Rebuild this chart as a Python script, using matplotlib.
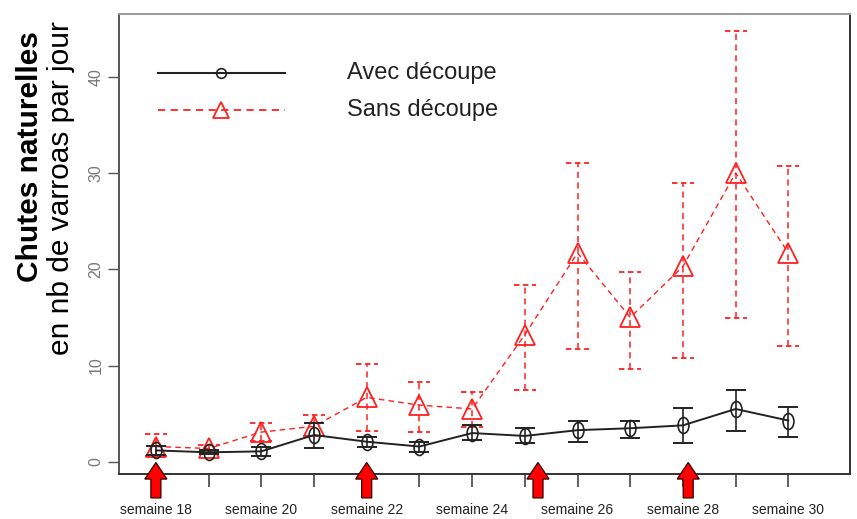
import matplotlib
matplotlib.use("Agg")
import matplotlib.pyplot as plt
from matplotlib.patches import FancyArrow
from matplotlib.lines import Line2D
from matplotlib.path import Path
from matplotlib.transforms import blended_transform_factory, Affine2D
import numpy as np

# ---- data ----
weeks = [18, 19, 20, 21, 22, 23, 24, 25, 26, 27, 28, 29, 30]
tick_label_weeks = [18, 20, 22, 24, 26, 28, 30]
tick_labels = ["semaine 18", "semaine 20", "semaine 22", "semaine 24",
               "semaine 26", "semaine 28", "semaine 30"]

avec_mean = [1.2, 1.0, 1.1, 2.8, 2.1, 1.6, 3.0, 2.7, 3.3, 3.5, 3.8, 5.5, 4.3]
avec_lo   = [0.7, 0.8, 0.6, 1.5, 1.6, 1.0, 2.3, 2.0, 2.1, 2.5, 2.0, 3.2, 2.6]
avec_hi   = [1.7, 1.2, 1.6, 4.0, 2.6, 2.1, 3.8, 3.5, 4.3, 4.3, 5.6, 7.5, 5.7]

sans_mean = [1.6, 1.4, 3.1, 3.7, 6.7, 5.9, 5.5, 13.2, 21.7, 15.0, 20.3, 30.0, 21.7]
sans_lo   = [0.6, 1.0, 2.2, 2.7, 3.2, 3.1, 3.6, 7.5, 11.7, 9.7, 10.8, 14.9, 12.0]
sans_hi   = [2.9, 1.8, 4.0, 4.9, 10.2, 8.3, 7.3, 18.4, 31.0, 19.7, 29.0, 44.7, 30.7]

arrow_weeks = [18, 22, 25.25, 28.1]

legend_labels = ["Avec découpe", "Sans découpe"]
ylabel_bold = "Chutes naturelles"
ylabel_sub = "en nb de varroas par jour"

# ---- figure ----
fig = plt.figure(figsize=(8.57, 5.19), dpi=100)
fig.patch.set_facecolor("white")
ax = fig.add_axes([119/857, 45/519, 731/857, 460/519])
ax.set_xlim(17.30, 31.17)
ax.set_ylim(-1.25, 46.5)

# ellipse marker (taller than wide)
ell = Path.unit_circle().transformed(Affine2D().scale(0.68, 1.0))

w = np.array(weeks, dtype=float)
am = np.array(avec_mean); sm = np.array(sans_mean)

# Sans découpe (red dashed)
red = "#ff2020"
ax.plot(w, sm, color=red, lw=1.0, ls=(0, (4, 3)), zorder=3)
ax.vlines(w, sans_lo, sans_hi, colors=red, lw=1.1, linestyles=(0, (4, 3)), zorder=3)
cw = 0.21
ax.hlines(sans_lo, w - cw, w + cw, colors=red, lw=1.3, linestyles=(0, (3, 2)), zorder=3)
ax.hlines(sans_hi, w - cw, w + cw, colors=red, lw=1.3, linestyles=(0, (3, 2)), zorder=3)
ax.plot(w, sm, ls="none", marker="^", ms=14, mfc="none", mec=red, mew=1.3, zorder=4)

# Avec découpe (black solid)
blk = "#222222"
ax.errorbar(w, am, yerr=[am - np.array(avec_lo), np.array(avec_hi) - am],
            fmt="none", ecolor=blk, elinewidth=1.2, capsize=7.5, capthick=1.4, zorder=5)
ax.plot(w, am, color=blk, lw=1.4, zorder=5)
ax.plot(w, am, ls="none", marker=ell, ms=11.5, mfc="none", mec=blk, mew=1.2, zorder=6)

# arrows
tr = blended_transform_factory(ax.transData, ax.transAxes)
for aw in arrow_weeks:
    arr = FancyArrow(aw, -0.052, 0, 0.077, width=0.19, head_width=0.42,
                     head_length=0.036, length_includes_head=True,
                     transform=tr, facecolor="#ff0000", edgecolor="#330000",
                     lw=0.9, clip_on=False, zorder=10)
    ax.add_patch(arr)

# axes styling
for side in ["left", "bottom", "right"]:
    ax.spines[side].set_color("#333333")
    ax.spines[side].set_linewidth(1.4)
ax.spines["top"].set_color("#999999")
ax.spines["top"].set_linewidth(1.4)
ax.spines["left"].set_color("#555555")

ax.set_yticks([0, 10, 20, 30, 40])
ax.set_yticklabels(["0", "10", "20", "30", "40"], rotation=90, va="center",
                   color="#777777", fontsize=11.5, family=["Liberation Sans", "DejaVu Sans"])
ax.tick_params(axis="y", length=8, width=1.0, color="#555555", pad=3)

ax.set_xticks(weeks, minor=False)
ax.set_xticklabels([tick_labels[tick_label_weeks.index(k)] if k in tick_label_weeks else ""
                    for k in weeks],
                   fontsize=10, color="#222222",
                   family=["Liberation Sans", "DejaVu Sans"])
ax.tick_params(axis="x", length=9, width=1.2, color="#444444", pad=12)

# y labels
fig.text(30/857, 1 - 157/519, ylabel_bold, rotation=90, ha="center", va="center",
         fontsize=21.5, fontweight="bold", family=["Liberation Sans", "DejaVu Sans"])
fig.text(61/857, 1 - 188/519, ylabel_sub, rotation=90, ha="center", va="center",
         fontsize=21.5, family=["Liberation Sans", "DejaVu Sans"])

# legend (manual)
lx = [0.053, 0.140, 0.227]
ax.add_line(Line2D(lx, [0.872] * 3, transform=ax.transAxes, color=blk, lw=1.5,
                   marker="o", ms=7, mfc="none", mec=blk, mew=1.2, markevery=[1]))
ax.add_line(Line2D(lx, [0.791] * 3, transform=ax.transAxes, color=red, lw=1.3,
                   ls=(0, (4, 3)), marker="^", ms=11, mfc="none", mec=red, mew=1.3,
                   markevery=[1]))
ax.text(0.312, 0.872, legend_labels[0], transform=ax.transAxes, va="center", ha="left",
        fontsize=17, color="#222222", family=["Liberation Sans", "DejaVu Sans"])
ax.text(0.312, 0.791, legend_labels[1], transform=ax.transAxes, va="center", ha="left",
        fontsize=17, color="#222222", family=["Liberation Sans", "DejaVu Sans"])

fig.savefig("out.png", dpi=100, facecolor="white")
